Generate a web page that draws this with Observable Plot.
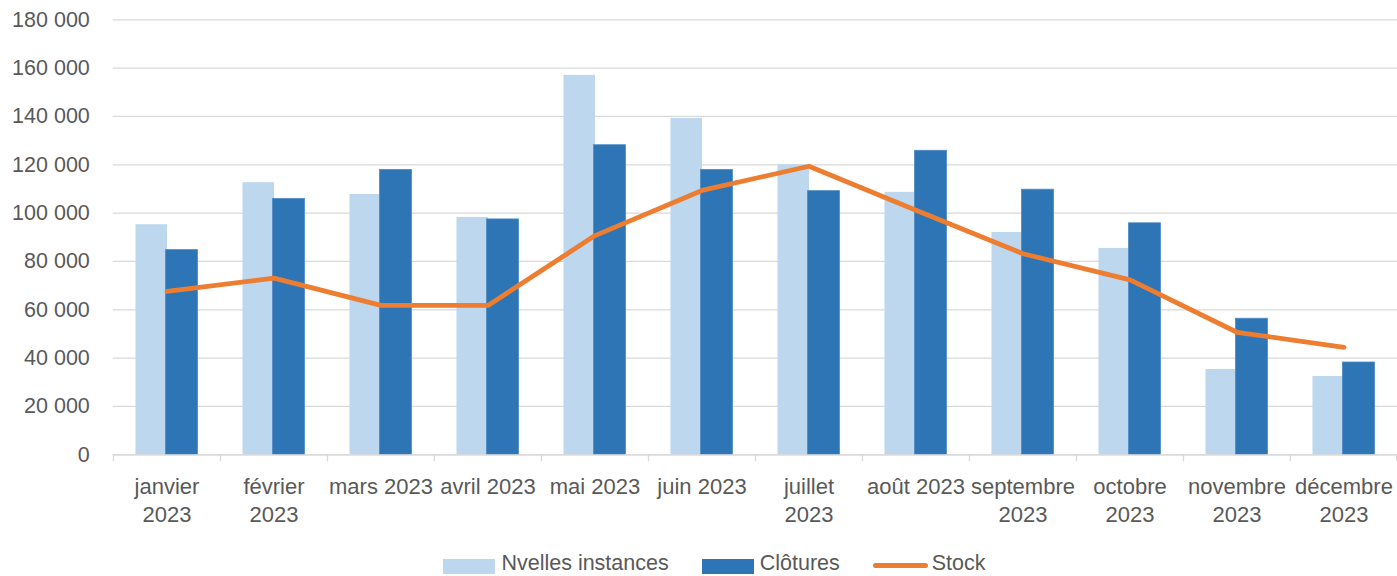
<!DOCTYPE html>
<html>
<head>
<meta charset="utf-8">
<script src="https://cdn.jsdelivr.net/npm/d3@7"></script>
<script src="https://cdn.jsdelivr.net/npm/@observablehq/plot@0.6"></script>
<style>
  html, body { margin: 0; padding: 0; background: #fff; overflow: hidden; }
  #chart { position: relative; width: 1397px; height: 576px; }
  #legend {
    position: absolute; top: 551px; left: 0; width: 1397px; height: 25px;
    display: flex; justify-content: center; padding-left: 32px; box-sizing: border-box;
    font-family: 'Liberation Sans', Arial, sans-serif; font-size: 21.5px; line-height: 25px; color: #595959;
  }
  .item { display: flex; align-items: center; margin: 0 16.5px; }
  .sw { width: 52px; height: 15px; margin-right: 6px; position: relative; top: 3px; }
  .ln { width: 55px; height: 5px; border-radius: 3px; margin-right: 4px; position: relative; top: 2px; }
</style>
</head>
<body>
<div id="chart"></div>
<script>
const months = ["janvier 2023", "février 2023", "mars 2023", "avril 2023", "mai 2023", "juin 2023",
  "juillet 2023", "août 2023", "septembre 2023", "octobre 2023", "novembre 2023", "décembre 2023"];
const tickLabels = ["janvier\n2023", "février\n2023", "mars 2023", "avril 2023", "mai 2023", "juin 2023",
  "juillet\n2023", "août 2023", "septembre\n2023", "octobre\n2023", "novembre\n2023", "décembre\n2023"];
const nouvelles = [95200, 112600, 107700, 98200, 157000, 139200, 120000, 108600, 92000, 85400, 35300, 32400];
const clotures = [84700, 105900, 117900, 97400, 128100, 117900, 109100, 125800, 109700, 95800, 56300, 38200];
const stock = [67600, 73100, 61800, 61800, 90700, 109400, 119400, 101200, 83200, 72400, 50700, 44500];
const yTicks = [0, 20000, 40000, 60000, 80000, 100000, 120000, 140000, 160000, 180000];
const seriesNames = ["Nvelles instances", "Clôtures", "Stock"];
const colors = ["#bdd7ee", "#2e75b6", "#ed7d31"];

const rowsN = months.map((m, i) => ({month: m, value: nouvelles[i]}));
const rowsC = months.map((m, i) => ({month: m, value: clotures[i]}));
const rowsS = months.map((m, i) => ({month: m, value: stock[i]}));
const labelOf = new Map(months.map((m, i) => [m, tickLabels[i]]));

const W = 1397, H = 540, mL = 112.7, mR = 0, mT = 19.3, mB = 85.7;
const bw = (W - mL - mR) / months.length;
const fmt = d3.formatLocale({thousands: " ", grouping: [3], decimal: ",", currency: ["", ""]}).format(",");

const plot = Plot.plot({
  width: W, height: H,
  marginLeft: mL, marginRight: mR, marginTop: mT, marginBottom: mB,
  style: {fontFamily: "'Liberation Sans', Arial, sans-serif", color: "#595959", background: "#fff", overflow: "visible"},
  x: {type: "band", domain: months, padding: 0},
  y: {domain: [0, 180000]},
  marks: [
    Plot.gridY(yTicks, {stroke: "#d9d9d9", strokeOpacity: 1, strokeWidth: 1.3}),
    Plot.ruleX(months, {x: d => d, y1: 0, y2: 0, insetBottom: -7, dx: -bw / 2, stroke: "#d9d9d9", strokeWidth: 1.3}),
    Plot.ruleX(months.slice(-1), {x: d => d, y1: 0, y2: 0, insetBottom: -7, dx: bw / 2 - 0.7, stroke: "#d9d9d9", strokeWidth: 1.3}),
    Plot.barY(rowsN, {x: "month", y: "value", fill: colors[0], insetLeft: bw * 0.21, insetRight: bw * 0.495}),
    Plot.barY(rowsC, {x: "month", y: "value", fill: colors[1], stroke: "#4f8cc6", strokeWidth: 0.8, insetLeft: bw * 0.49, insetRight: bw * 0.21}),
    Plot.ruleY([0], {stroke: "#d9d9d9", strokeWidth: 1.3}),
    Plot.lineY(rowsS, {x: "month", y: "value", stroke: colors[2], strokeWidth: 4.8, strokeLinecap: "round", strokeLinejoin: "round"}),
    Plot.axisY(yTicks, {tickSize: 0, tickPadding: 23.4, tickFormat: fmt, fontSize: 21.5, label: null}),
    Plot.axisX({tickSize: 0, tickPadding: 19.5, tickFormat: d => labelOf.get(d), fontSize: 22, lineHeight: 1.27, label: null})
  ]
});
document.getElementById("chart").appendChild(plot);

const legend = document.createElement("div");
legend.id = "legend";
seriesNames.forEach((name, i) => {
  const item = document.createElement("div");
  item.className = "item";
  const sw = document.createElement("span");
  sw.className = i === 2 ? "ln" : "sw";
  sw.style.background = colors[i];
  const t = document.createElement("span");
  t.textContent = name;
  item.appendChild(sw); item.appendChild(t);
  legend.appendChild(item);
});
document.getElementById("chart").appendChild(legend);
</script>
</body>
</html>
